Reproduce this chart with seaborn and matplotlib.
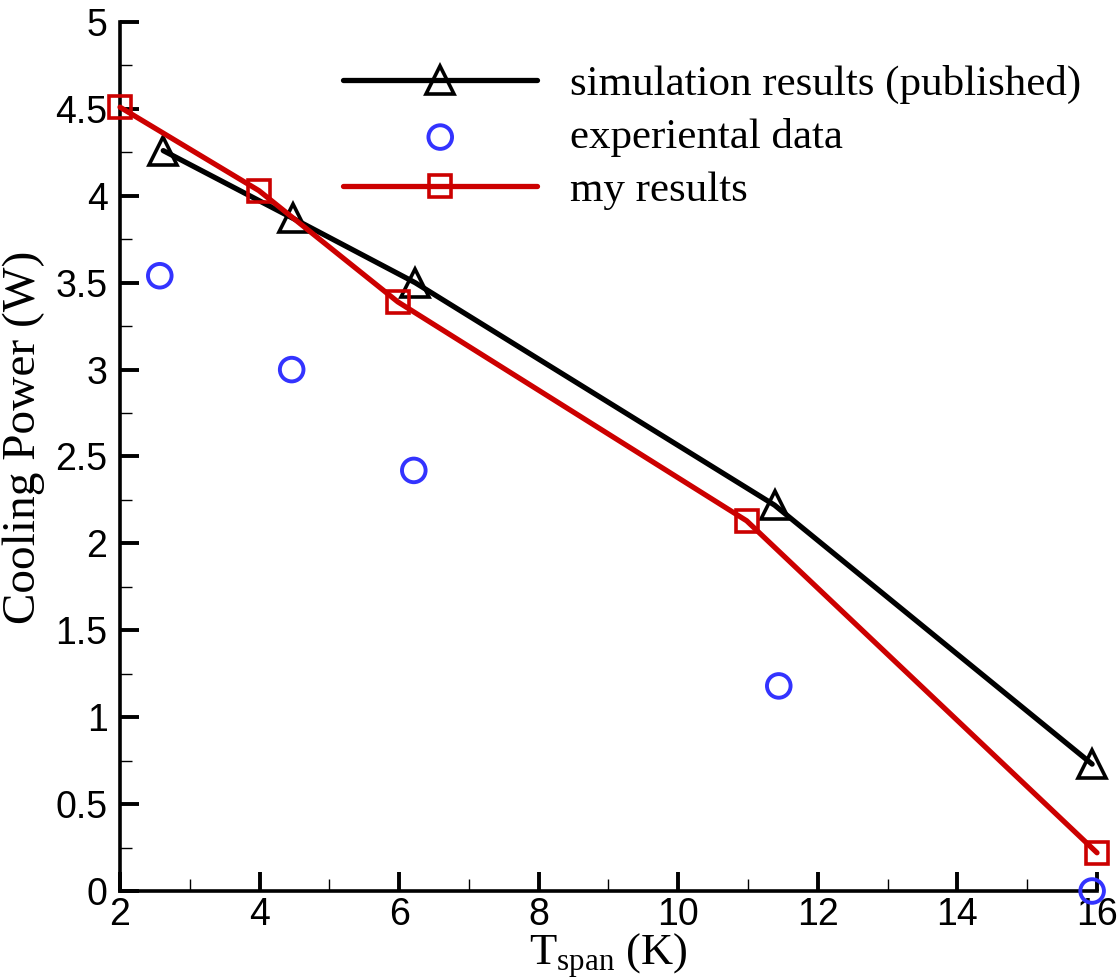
import matplotlib
matplotlib.use("Agg")
import matplotlib.pyplot as plt
import seaborn as sns
import numpy as np
from matplotlib.ticker import MultipleLocator

sns.set_theme(style="white")
plt.rcParams['font.family'] = ['Liberation Sans', 'DejaVu Sans']
plt.rcParams['mathtext.fontset'] = 'custom'
plt.rcParams['mathtext.rm'] = 'Liberation Serif'
plt.rcParams['mathtext.it'] = 'Liberation Serif:italic'
plt.rcParams['text.color'] = 'black'
plt.rcParams['axes.labelcolor'] = 'black'

# Data
sim_x = [2.62, 4.48, 6.23, 11.38, 15.93]
sim_y = [4.26, 3.87, 3.50, 2.22, 0.73]
exp_x = [2.57, 4.46, 6.21, 11.44, 15.93]
exp_y = [3.54, 3.00, 2.42, 1.18, 0.00]
my_x = [2.0, 3.99, 5.98, 10.98, 16.0]
my_y = [4.51, 4.03, 3.39, 2.13, 0.22]
labels = ["simulation results (published)", "experiental data", "my results"]

W, H = 1118, 980
fig = plt.figure(figsize=(W / 100, H / 100), dpi=100)
ax = fig.add_axes([120 / W, (980 - 891) / H, (1097 - 120) / W, (891 - 22) / H])

sns.lineplot(x=sim_x, y=sim_y, ax=ax, color='black', lw=3.8, marker='^',
             markersize=20, markerfacecolor='none', markeredgecolor='black',
             markeredgewidth=2.6, label=labels[0], clip_on=False, zorder=3)
sns.scatterplot(x=exp_x, y=exp_y, ax=ax, marker='o', s=17**2, facecolors='none',
                edgecolor='#3333ff', linewidth=2.8, label=labels[1], clip_on=False, zorder=4)
sns.lineplot(x=my_x, y=my_y, ax=ax, color='#cc0000', lw=3.8, marker='s',
             markersize=15.5, markerfacecolor='none', markeredgecolor='#cc0000',
             markeredgewidth=2.6, label=labels[2], clip_on=False, zorder=5)

ax.set_xlim(2, 16)
ax.set_ylim(0, 5)
ax.xaxis.set_major_locator(MultipleLocator(2))
ax.xaxis.set_minor_locator(MultipleLocator(1))
ax.yaxis.set_major_locator(MultipleLocator(0.5))
ax.yaxis.set_minor_locator(MultipleLocator(0.25))
ax.set_xticklabels([f"{int(v)}" for v in ax.get_xticks()])
ax.set_yticklabels([f"{v:g}" for v in ax.get_yticks()])

for side in ['top', 'right']:
    ax.spines[side].set_visible(False)
for side in ['left', 'bottom']:
    ax.spines[side].set_linewidth(2.6)
    ax.spines[side].set_color('black')

ax.tick_params(which='major', direction='in', length=14, width=2.8, labelsize=27,
               colors='black')
ax.tick_params(axis='x', which='major', pad=4)
ax.tick_params(axis='y', which='major', pad=9)
ax.tick_params(which='minor', direction='in', length=8.5, width=1.0, colors='black')
ax.tick_params(axis='both', which='both', left=True, bottom=True)

ax.set_ylabel("Cooling Power (W)", family='Liberation Serif', fontsize=34)
ax.set_xlabel(r"T$_{\rm span}$ (K)", family='Liberation Serif', fontsize=32)
ax.yaxis.set_label_coords(-0.077, 0.522)
ax.xaxis.set_label_coords(0.5, -0.046)

h, l = ax.get_legend_handles_labels()
leg = ax.legend(h, l, loc='upper left', bbox_to_anchor=(0.211, 0.970), frameon=False,
                prop={'family': 'Liberation Serif', 'size': 31}, handlelength=4.5,
                handletextpad=0.77, labelspacing=0.32, borderaxespad=0)

fig.savefig("out.png", dpi=100)
